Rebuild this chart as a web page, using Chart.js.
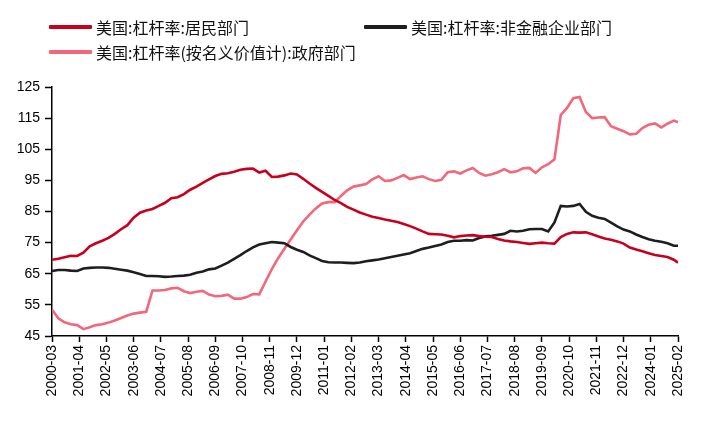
<!DOCTYPE html>
<html>
<head>
<meta charset="utf-8">
<script src="https://cdn.jsdelivr.net/npm/chart.js@4.4.1/dist/chart.umd.min.js"></script>
<style>
  html, body { margin: 0; padding: 0; background: #fff; }
  #wrap { position: relative; width: 709px; height: 423px; }
  #legend { position: absolute; left: 0; top: 0; width: 709px; height: 70px;
            font-family: "Noto Sans CJK SC", "Noto Sans", sans-serif; font-size: 16px; color: #111; }
  .item { position: absolute; display: flex; align-items: center; white-space: nowrap; }
  .swatch { width: 43px; height: 4px; margin-right: 4px; border-radius: 1px; }
</style>
</head>
<body>
<div id="wrap">
  <canvas id="c" width="709" height="423"></canvas>
  <div id="legend"></div>
</div>
<script>
// ---- data (quarterly observations, 2000-03 ... 2024-12, then 2025-02) ----
const seriesNames = ['美国:杠杆率:居民部门', '美国:杠杆率:非金融企业部门', '美国:杠杆率(按名义价值计):政府部门'];

const startYear = 2000, startMonth = 3;
const dates = [];
for (let y = 2000; y <= 2024; y++) {
  for (const mo of [3, 6, 9, 12]) dates.push(y + '-' + String(mo).padStart(2, '0'));
}
dates.push('2025-02');

const household = [
  69.5, 69.8, 70.3, 70.8, 70.7, 71.8, 73.8, 74.8, 75.6, 76.5,
  77.8, 79.3, 80.6, 83.0, 84.6, 85.3, 85.8, 86.8, 87.8, 89.3,
  89.6, 90.6, 92.0, 93.0, 94.2, 95.3, 96.4, 97.1, 97.3, 97.8,
  98.4, 98.7, 98.8, 97.5, 98.1, 96.1, 96.2, 96.6, 97.2, 96.9,
  95.5, 94.0, 92.6, 91.3, 90.0, 88.7, 87.7, 86.5, 85.6, 84.7,
  84.0, 83.3, 82.9, 82.4, 82.0, 81.6, 81.0, 80.3, 79.5, 78.6,
  77.8, 77.7, 77.6, 77.2, 76.7, 77.1, 77.3, 77.4, 77.1, 76.9,
  76.8, 76.2, 75.7, 75.4, 75.2, 74.9, 74.6, 74.8, 75.0, 74.8,
  74.7, 76.8, 77.8, 78.3, 78.2, 78.3, 77.7, 77.0, 76.3, 75.9,
  75.4, 74.7, 73.4, 72.8, 72.2, 71.6, 71.0, 70.7, 70.4, 69.5,
  68.6
];

const corporate = [
  65.9, 66.2, 66.2, 66.0, 65.9, 66.7, 66.9, 67.0, 67.0, 66.9,
  66.6, 66.3, 66.0, 65.5, 64.9, 64.3, 64.3, 64.2, 64.0, 64.1,
  64.3, 64.4, 64.7, 65.3, 65.7, 66.4, 66.7, 67.6, 68.6, 69.8,
  71.0, 72.3, 73.5, 74.4, 74.8, 75.2, 75.0, 74.8, 73.6, 72.7,
  72.0, 70.9, 70.0, 69.1, 68.7, 68.6, 68.6, 68.5, 68.4, 68.6,
  69.0, 69.3, 69.6, 70.0, 70.4, 70.8, 71.2, 71.6, 72.3, 73.0,
  73.4, 73.9, 74.4, 75.2, 75.6, 75.6, 75.8, 75.7, 76.5, 77.0,
  77.2, 77.5, 77.8, 78.8, 78.6, 78.8, 79.3, 79.4, 79.4, 78.6,
  81.5, 86.8, 86.6, 86.8, 87.4, 84.9, 83.6, 83.0, 82.6, 81.4,
  80.2, 79.2, 78.6, 77.6, 76.8, 76.1, 75.6, 75.3, 74.8, 74.0,
  74.0
];

const government = [
  53.5, 50.7, 49.4, 48.8, 48.5, 47.2, 47.8, 48.5, 48.8, 49.3,
  50.0, 50.8, 51.6, 52.2, 52.5, 52.8, 59.6, 59.6, 59.8, 60.3,
  60.5, 59.4, 58.8, 59.2, 59.5, 58.3, 57.8, 57.9, 58.3, 57.0,
  57.0, 57.5, 58.5, 58.4, 62.5, 66.5, 70.0, 73.0, 76.0, 79.0,
  81.8, 84.0, 86.0, 87.6, 88.0, 88.0, 90.0, 91.8, 93.0, 93.4,
  93.8, 95.3, 96.3, 94.8, 95.0, 95.8, 96.7, 95.4, 95.9, 96.3,
  95.4, 94.8, 95.2, 97.6, 97.9, 97.2, 98.2, 99.0, 97.4, 96.5,
  97.0, 97.6, 98.6, 97.6, 97.9, 98.9, 99.0, 97.4, 99.2, 100.2,
  101.8, 116.0, 118.3, 121.4, 121.8, 117.0, 115.0, 115.2, 115.3, 112.4,
  111.6, 110.8, 109.8, 110.0, 111.8, 112.9, 113.3, 112.0, 113.2, 114.2,
  113.7
];

const yTicks = { min: 45, max: 125, step: 10 };
const xTickStepMonths = 13;
const xFirst = '2000-03', xLast = '2025-02';

// ---- helpers ----
function monthIndex(s) {
  const [y, m] = s.split('-').map(Number);
  return (y - startYear) * 12 + (m - startMonth);
}
function monthLabel(i) {
  const t = startYear * 12 + (startMonth - 1) + i;
  const y = Math.floor(t / 12), m = t % 12 + 1;
  return y + '-' + String(m).padStart(2, '0');
}
function pts(vals) { return vals.map((v, i) => ({ x: monthIndex(dates[i]), y: v })); }

const colors = ['#C8001E', '#1E1E1E', '#F2677A'];
const axisFont = { family: '"Liberation Sans", Arial, sans-serif', size: 14 };

const chart = new Chart(document.getElementById('c'), {
  type: 'line',
  data: {
    datasets: [
      { label: seriesNames[0], data: pts(household), borderColor: colors[0], backgroundColor: colors[0] },
      { label: seriesNames[1], data: pts(corporate), borderColor: colors[1], backgroundColor: colors[1] },
      { label: seriesNames[2], data: pts(government), borderColor: colors[2], backgroundColor: colors[2] }
    ]
  },
  options: {
    responsive: false,
    animation: false,
    layout: { padding: { top: 87, right: 31, bottom: 0, left: 0 } },
    elements: { point: { radius: 0 }, line: { borderWidth: 2.6, tension: 0 } },
    plugins: { legend: { display: false }, tooltip: { enabled: false } },
    scales: {
      x: {
        type: 'linear',
        min: monthIndex(xFirst),
        max: monthIndex(xLast),
        afterFit: s => { s.height = 87; },
        afterBuildTicks: s => {
          const t = [];
          for (let v = s.min; v <= s.max; v += xTickStepMonths) t.push({ value: v });
          s.ticks = t;
        },
        ticks: {
          autoSkip: false, minRotation: 90, maxRotation: 90, padding: 3,
          color: '#000', font: axisFont,
          callback: v => monthLabel(v)
        },
        grid: { display: true, drawOnChartArea: false, drawTicks: true, tickLength: 6, tickColor: '#000', tickWidth: 1.5 },
        border: { display: true, color: '#000', width: 1.5 }
      },
      y: {
        min: yTicks.min, max: yTicks.max,
        afterFit: s => { s.width = 52; },
        ticks: { stepSize: yTicks.step, padding: 5, color: '#000', font: axisFont },
        grid: { display: true, drawOnChartArea: false, drawTicks: true, tickLength: 7, tickColor: '#000', tickWidth: 1.5 },
        border: { display: true, color: '#000', width: 1.5 }
      }
    }
  }
});

// ---- HTML legend built from the chart's datasets ----
const legendPos = [{ left: 49, top: 27 }, { left: 364, top: 27 }, { left: 49, top: 52 }];
const legendEl = document.getElementById('legend');
chart.data.datasets.forEach((ds, i) => {
  const it = document.createElement('div');
  it.className = 'item';
  it.style.left = legendPos[i].left + 'px';
  it.style.top = (legendPos[i].top - 11) + 'px';
  it.style.height = '22px';
  const sw = document.createElement('span');
  sw.className = 'swatch';
  sw.style.background = ds.borderColor;
  const tx = document.createElement('span');
  tx.textContent = ds.label;
  it.appendChild(sw); it.appendChild(tx);
  legendEl.appendChild(it);
});
</script>
</body>
</html>
